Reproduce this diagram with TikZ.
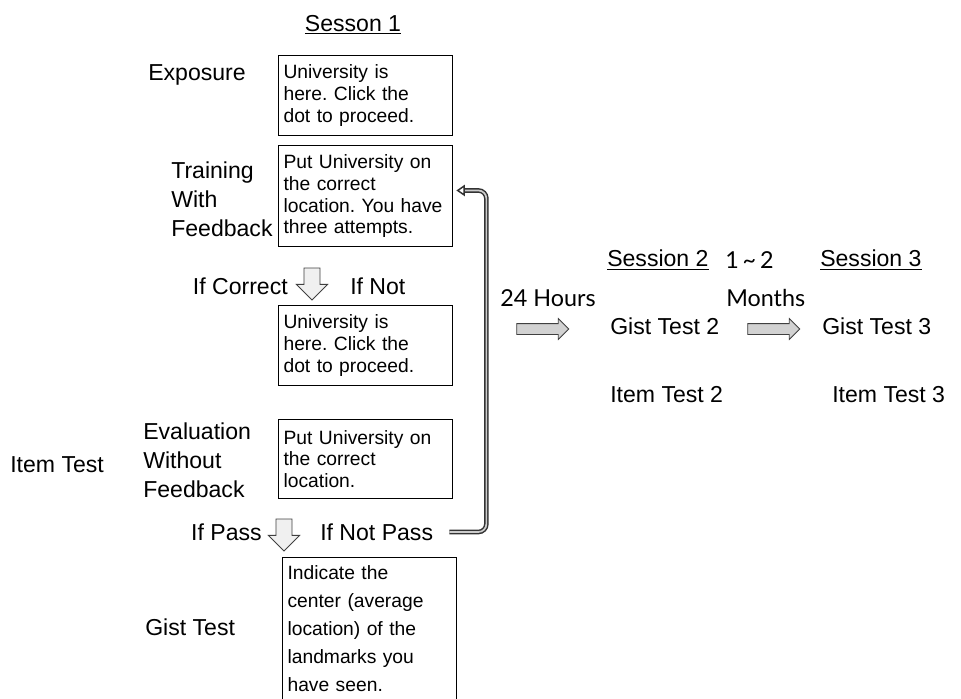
\documentclass[tikz,border=0pt]{standalone}
\usepackage{fontspec}
\setmainfont{Liberation Sans}
\newfontfamily\hoursfont{Lato}
\usetikzlibrary{shapes.arrows, arrows.meta}
\tikzset{>=latex}
\frenchspacing
\tikzset{
	taskbox/.style={draw, line width=0.8pt, anchor=north west,
		align=left, text width=4.1cm, inner xsep=0.125cm, inner ysep=2pt,
		font=\fontsize{13.7}{15.6}\selectfont},
	steplabel/.style={align=left, anchor=west, inner sep=0pt,
		font=\fontsize{16.4}{20.6}\selectfont},
	gaplabel/.style={align=left, anchor=west, inner sep=0pt,
		font=\hoursfont\fontsize{16.6}{20}\selectfont},
	downarrow/.style={single arrow, shape border rotate=270, draw=black!75,
		fill=gray!12, line width=0.6pt, inner xsep=0.19cm, inner ysep=0pt,
		minimum height=0.8cm, single arrow head extend=0.19cm},
	rightarrow/.style={single arrow, draw=black!75, fill=gray!35,
		line width=0.6pt, inner xsep=0pt, inner ysep=0.125cm,
		minimum height=1.3cm, single arrow head extend=0.125cm},
	looparrow/.style={draw=black!80, double=gray!40, double distance=1.2pt,
		line width=1.05pt, rounded corners=0.2cm,
		-{Triangle[open, length=6pt, width=8pt]}}
}

\begin{document}
\begin{tikzpicture}[x=0.025cm, y=-0.025cm]
\useasboundingbox (0,0) rectangle (961,698);

% session 1
	\node[steplabel, anchor=center] (title1) at (353,25) {\underline{Sesson 1}};

	\node[steplabel] (exposure) at (148,75) {Exposure};
	\node[taskbox, minimum height=2cm] (exposebox) at (278,55)
		{University is\\here. Click the\\dot to proceed.};

	\node[steplabel] (training) at (171,199) {Training\\With\\Feedback};
	\node[taskbox, minimum height=2.525cm] (trainbox) at (278,145)
		{Put University on\\the correct\\location. You have\\three attempts.};

	\node[downarrow] (down1) at (312,280) {};
	\node[steplabel, anchor=east] (correct) at (288,286) {If Correct};
	\node[steplabel] (notcorrect) at (350,286) {If Not};

	\node[taskbox, minimum height=2cm] (feedbox) at (278,305)
		{University is\\here. Click the\\dot to proceed.};

	\node[steplabel] (itemtest) at (10,465) {Item Test};
	\node[steplabel] (evaluation) at (143,460) {Evaluation\\Without\\Feedback};
	\node[taskbox, minimum height=1.975cm] (evalbox) at (278,419)
		{Put University on\\the correct\\location.};

	\node[downarrow] (down2) at (284,531) {};
	\node[steplabel, anchor=east] (pass) at (262,532) {If Pass};
	\node[steplabel] (notpass) at (320,532) {If Not Pass};

	\node[steplabel] (gisttest) at (145,627) {Gist Test};
	\node[taskbox, minimum height=3.55cm, font=\fontsize{13.7}{19.9}\selectfont]
		(gistbox) at (282,557)
		{Indicate the\\center (average\\location) of the\\landmarks you\\have seen.};

% back to training
	\coordinate (looptip) at ([xshift=0.08cm, yshift=0.14cm]trainbox.east);
	\draw[looparrow] ([xshift=0.4cm]notpass.east) -| ([xshift=0.75cm]looptip) -- (looptip);

% session 2 and 3
	\node[gaplabel] (hours) at (500,298) {24 Hours};
	\node[rightarrow] (gap1) at (540,329) {};

	\node[steplabel] (title2) at (607,260) {\underline{Session 2}};
	\node[steplabel] (gist2) at (610,326) {Gist Test 2};
	\node[steplabel] (item2) at (610,395) {Item Test 2};

	\node[gaplabel] (interval) at (725,260) {1\,\textasciitilde\,2};
	\node[gaplabel] (months) at (726,298) {Months};
	\node[rightarrow] (gap2) at (771,329) {};

	\node[steplabel] (title3) at (820,260) {\underline{Session 3}};
	\node[steplabel] (gist3) at (822,326) {Gist Test 3};
	\node[steplabel] (item3) at (832,395) {Item Test 3};
\end{tikzpicture}
\end{document}
